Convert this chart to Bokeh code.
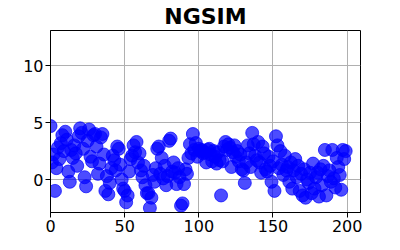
from bokeh.plotting import figure
from bokeh.models import Range1d, FixedTicker, ColumnDataSource
from bokeh.embed import file_html
from bokeh.resources import INLINE

title_text = "NGSIM"
x_ticks = [0, 50, 100, 150, 200]
y_ticks = [0, 5, 10]

x_vals = list(range(200))
y_vals = [
    4.7, 1.5, 2.2, -1.0, 1.0, 2.8, 1.8, 3.2, 3.9, 2.5,
    4.2, 3.5, 0.7, -0.2, 2.6, 1.9, 3.0, 2.3, 1.2, 3.8,
    4.5, 4.1, 2.7, 0.2, -0.6, 3.4, 4.4, 2.0, 1.6, 3.9,
    4.0, 2.9, 0.5, 1.4, 3.7, 4.0, 2.2, -1.0, 0.3, -1.3,
    -0.3, 1.0, 2.1, 1.7, 0.8, 2.9, 2.7, 1.3, 0.0, -0.8,
    -1.0, -2.0, -1.4, 0.7, 1.8, 2.1, 3.0, 2.4, 3.3, 1.5,
    2.3, 0.8, 0.2, 1.2, -0.5, -1.2, -1.2, -2.5, -1.6, 0.4,
    -0.2, 1.0, 2.7, 2.9, 0.5, 1.9, 0.1, 1.2, -0.5, 0.3,
    3.4, 3.6, 0.7, 1.5, 0.6, -0.4, 1.0, 0.2, -2.3, -2.1,
    -0.4, 0.9, 0.5, 1.9, 3.1, 2.3, 4.0, 2.6, 3.2, 2.0,
    2.7, 2.5, 2.6, 2.3, 2.4, 1.5, 2.6, 2.7, 2.2, 1.6,
    2.5, 2.0, 1.4, 2.4, 1.7, -1.4, 1.6, 2.9, 3.3, 2.6,
    3.1, 2.8, 1.1, 2.4, 3.0, 2.0, 2.5, 1.6, 2.2, 0.9,
    0.8, -0.3, 1.5, 3.0, 2.3, 1.1, 4.1, 3.1, 2.1, 1.7,
    3.3, 1.5, 0.6, 2.9, 2.3, 0.9, 0.7, 2.0, 1.2, -0.2,
    1.6, -1.0, 3.8, 3.0, 1.0, 2.5, 1.3, 0.4, 2.1, 0.8,
    1.1, -0.2, 1.5, -0.8, 0.8, 1.8, 0.2, 1.2, -1.0, 0.5,
    -1.4, 0.9, -1.6, 0.0, -0.3, 0.6, -1.2, 1.4, -0.8, 0.2,
    0.6, -1.5, 0.9, -0.5, 1.2, 2.6, -1.4, 0.3, 0.8, -0.2,
    2.6, 0.1, -0.7, 1.9, 1.1, 0.4, -0.9, 2.6, 1.8, 2.5,
]

source = ColumnDataSource(data=dict(x=x_vals, y=y_vals))

p = figure(width=384, height=234, output_backend="svg", toolbar_location=None,
           x_range=Range1d(0, 209), y_range=Range1d(-2.9, 13.1),
           min_border_left=50, min_border_right=24, min_border_top=0, min_border_bottom=5)

p.title.text = title_text
p.title.align = "center"
p.title.text_font = "DejaVu Sans"
p.title.text_font_size = "22px"
p.title.text_font_style = "bold"
p.title.text_color = "black"
p.title.standoff = 3
p.title.offset = 0

p.scatter(x="x", y="y", source=source, size=13, fill_color="blue", line_color="blue",
          fill_alpha=0.7, line_alpha=0.7)

for ax in (p.xaxis[0], p.yaxis[0]):
    ax.major_label_text_font = "DejaVu Sans"
    ax.major_label_text_font_size = "16px"
    ax.major_label_text_color = "black"
    ax.axis_line_color = "black"
    ax.major_tick_line_color = "black"
    ax.major_tick_out = 5
    ax.major_tick_in = 0
    ax.minor_tick_line_color = None
    ax.major_label_standoff = 2

p.xaxis.ticker = FixedTicker(ticks=x_ticks)
p.yaxis.ticker = FixedTicker(ticks=y_ticks)

p.xgrid.grid_line_color = "#b0b0b0"
p.ygrid.grid_line_color = "#b0b0b0"
p.xgrid.ticker = FixedTicker(ticks=x_ticks)
p.ygrid.ticker = FixedTicker(ticks=y_ticks)

p.outline_line_color = "black"
p.outline_line_alpha = 1.0
p.outline_line_width = 1
p.background_fill_color = "white"
p.border_fill_color = "white"

open("out.html", "w").write(file_html(p, INLINE))
